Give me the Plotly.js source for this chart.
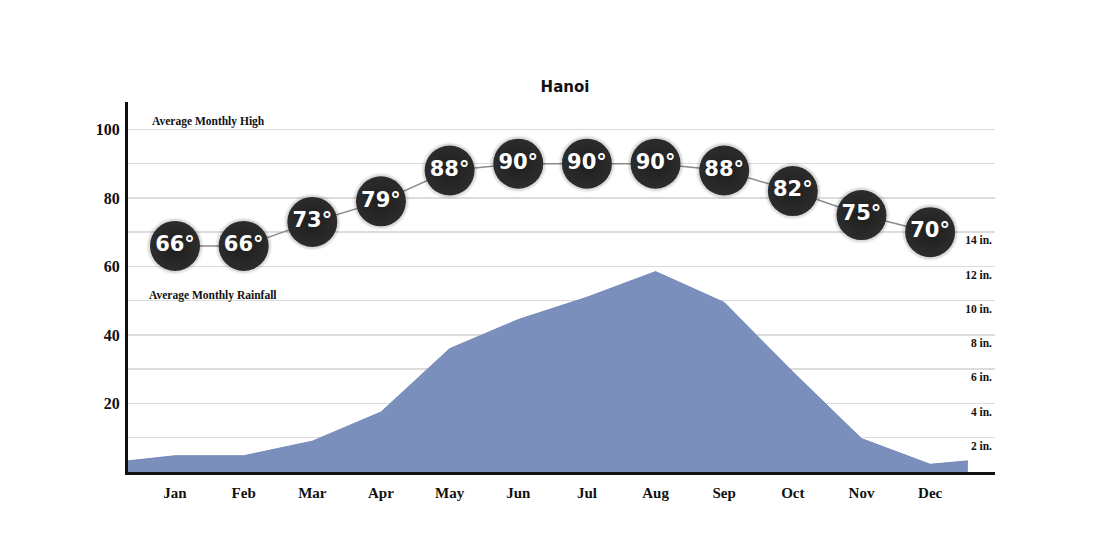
<!DOCTYPE html>
<html>
<head>
<meta charset="utf-8">
<script src="https://cdn.plot.ly/plotly-3.0.1.min.js"></script>
<style>html,body{margin:0;padding:0;background:#fff}#chart{width:1110px;height:560px}</style>
</head>
<body>
<div id="chart"></div>
<script>
// ---- data ----
var months = ["Jan","Feb","Mar","Apr","May","Jun","Jul","Aug","Sep","Oct","Nov","Dec"];
var highTempF = [66, 66, 73, 79, 88, 90, 90, 90, 88, 82, 75, 70];
var rainfallIn = [0.95, 0.95, 1.8, 3.5, 7.2, 8.9, 10.2, 11.7, 9.9, 5.85, 1.95, 0.45];
var rainEdgeStart = 0.65;   // area value at the left edge of the plot
var rainEdgeEnd = 0.65;     // area value where the area stops after Dec
var leftTickVals = [10, 20, 30, 40, 50, 60, 70, 80, 90, 100];
var leftTickText = ["", "20", "", "40", "", "60", "", "80", "", "100"];
var rightTickVals = [2, 4, 6, 8, 10, 12, 14];
var rightTickText = ["2 in.", "4 in.", "6 in.", "8 in.", "10 in.", "12 in.", "14 in."];

// ---- derived ----
var monthIdx = months.map(function(_, i){ return i; });
var xRange = [-0.685, 11.945];
var rainX = [xRange[0]].concat(monthIdx, [11.55]);
var rainY = [rainEdgeStart].concat(rainfallIn, [rainEdgeEnd]);
var tempLabels = highTempF.map(function(v){ return v + "\u00B0"; });

var serifBold = {family: "Liberation Serif, Times New Roman, serif", color: "#111", weight: "bold"};

var traces = [
  {
    x: rainX, y: rainY, yaxis: "y2", type: "scatter", mode: "lines",
    fill: "tozeroy", fillcolor: "rgb(123,143,189)",
    line: {color: "rgb(118,138,185)", width: 1}, hoverinfo: "skip"
  },
  {
    x: monthIdx, y: highTempF, type: "scatter", mode: "lines",
    line: {color: "#8a8a8a", width: 1.5}, hoverinfo: "skip"
  },
  {
    x: monthIdx, y: highTempF, type: "scatter", mode: "markers",
    marker: {size: 57, color: "rgba(0,0,0,0.05)"}, hoverinfo: "skip"
  },
  {
    x: monthIdx, y: highTempF, type: "scatter", mode: "markers",
    marker: {size: 54, color: "rgba(0,0,0,0.09)"}, hoverinfo: "skip"
  },
  {
    x: monthIdx, y: highTempF, type: "scatter", mode: "markers+text",
    text: tempLabels, textposition: "middle center",
    textfont: {family: "DejaVu Sans, Verdana, sans-serif", size: 21, color: "#ffffff", weight: "bold"},
    marker: {size: 50, color: "#2c2c2c",
             gradient: {type: "radial", color: "#1e1e1e"}},
    hoverinfo: "skip"
  }
];

var layout = {
  width: 1110, height: 560,
  margin: {l: 128, r: 115, t: 102, b: 88},
  paper_bgcolor: "#ffffff", plot_bgcolor: "#ffffff",
  showlegend: false,
  title: {
    text: "Hanoi", xref: "container", x: 0.509, xanchor: "center",
    yref: "container", y: 1 - 87/560, yanchor: "middle",
    font: {family: "DejaVu Sans, Verdana, sans-serif", size: 15, color: "#111", weight: "bold"}
  },
  xaxis: {
    range: xRange, tickmode: "array", tickvals: monthIdx, ticktext: months,
    showgrid: false, zeroline: false, showline: true, linecolor: "#111", linewidth: 3,
    ticks: "", ticklabelstandoff: 5,
    tickfont: Object.assign({size: 15}, serifBold), fixedrange: true
  },
  yaxis: {
    range: [0, 108], tickmode: "array", tickvals: leftTickVals, ticktext: leftTickText,
    showgrid: true, gridcolor: "#dcdcdc", gridwidth: 1.5,
    zeroline: false, showline: true, linecolor: "#111", linewidth: 3,
    ticks: "", ticklabelstandoff: 2,
    tickfont: Object.assign({size: 16}, serifBold), fixedrange: true
  },
  yaxis2: {
    range: [0, 21.6], overlaying: "y", side: "right",
    tickmode: "array", tickvals: rightTickVals, ticktext: rightTickText,
    ticklabelposition: "inside bottom",
    showgrid: false, zeroline: false, showline: false, ticks: "",
    tickfont: Object.assign({size: 11.5}, serifBold), fixedrange: true
  },
  annotations: [
    {text: "Average Monthly High", xref: "paper", yref: "paper",
     x: (150-128)/867, y: (472-121)/370, xanchor: "left", yanchor: "middle",
     showarrow: false, font: Object.assign({size: 11.5}, serifBold)},
    {text: "Average Monthly Rainfall", xref: "paper", yref: "paper",
     x: (147-128)/867, y: (472-295)/370, xanchor: "left", yanchor: "middle",
     showarrow: false, font: Object.assign({size: 11.5}, serifBold)}
  ]
};

Plotly.newPlot("chart", traces, layout, {displayModeBar: false, staticPlot: true});
</script>
</body>
</html>
